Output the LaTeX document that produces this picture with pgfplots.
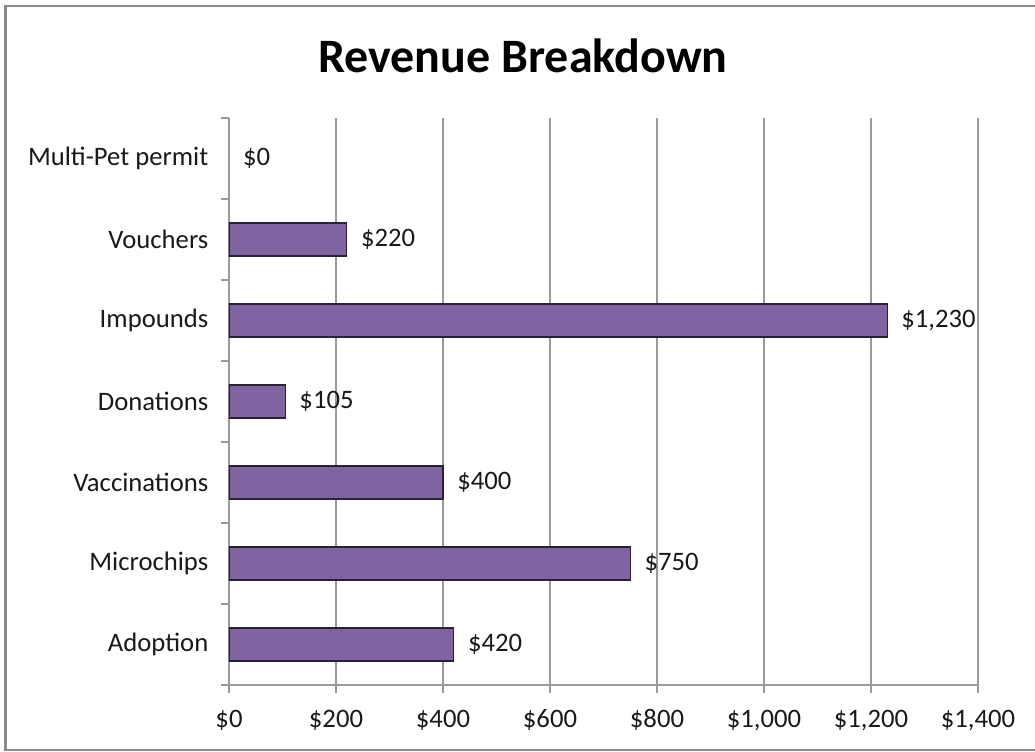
\documentclass[border=0pt]{standalone}
\usepackage{fontspec}
\setmainfont{Carlito}
\usepackage{pgfplots}
\pgfplotsset{compat=1.18}
\definecolor{barfill}{HTML}{8064A2}
\definecolor{baredge}{HTML}{2A2233}
\definecolor{gridc}{HTML}{9A9A9A}
\definecolor{framec}{HTML}{8A8A8A}
\begin{document}
\begin{tikzpicture}
\useasboundingbox (-171.75pt,-50.25pt) rectangle (604.5pt,513.75pt);
\draw[framec, line width=1.8pt] (604.5pt,509.25pt) -- (-167.6pt,509.25pt) -- (-167.6pt,-48.6pt) -- (604.5pt,-48.6pt);
\node[font=\fontsize{36}{40}\selectfont\bfseries] at (220.5pt,472pt) {Revenue Breakdown};
\begin{axis}[
  at={(0,0)}, anchor=south west,
  scale only axis, width=561.75pt, height=425.25pt,
  xbar, bar width=24.75pt,
  xmin=0, xmax=1400, ymin=-0.5, ymax=6.5,
  axis lines*=left, axis line style={gridc, line width=0.8pt},
  xtick={0,200,...,1400},
  xticklabels={\$0,\$200,\$400,\$600,\$800,\$1{,}000,\$1{,}200,\$1{,}400},
  ytick={0,...,6},
  yticklabels={Adoption,Microchips,Vaccinations,Donations,Impounds,Vouchers,Multi-Pet permit},
  minor xtick={0,200,...,1400},
  minor ytick={-0.5,0.5,...,6.5},
  major tick length=0pt, minor tick length=6pt,
  tick align=outside,
  minor tick style={gridc, line width=0.8pt},
  xmajorgrids, major grid style={gridc, line width=0.8pt},
  /pgf/number format/assume math mode=true,
  tick label style={font=\fontsize{20}{24}\selectfont, text=black!90},
  yticklabel style={xshift=-12pt},
  xticklabel style={anchor=base, yshift=-32pt},
  nodes near coords, point meta=explicit symbolic,
  every node near coord/.append style={font=\fontsize{20}{24}\selectfont, text=black!90, anchor=west, xshift=7pt},
]
\addplot[bar shift=0pt, fill=barfill, draw=baredge, line width=0.8pt] coordinates {
  (420,0) [\$420]
  (750,1) [\$750]
  (400,2) [\$400]
  (105,3) [\$105]
  (1230,4) [\$1{,}230]
  (220,5) [\$220]
};
% zero value: label only, no visible bar
\addplot[bar shift=0pt, draw=none, fill=none] coordinates {
  (0,6) [\$0]
};
\end{axis}
\end{tikzpicture}
\end{document}
